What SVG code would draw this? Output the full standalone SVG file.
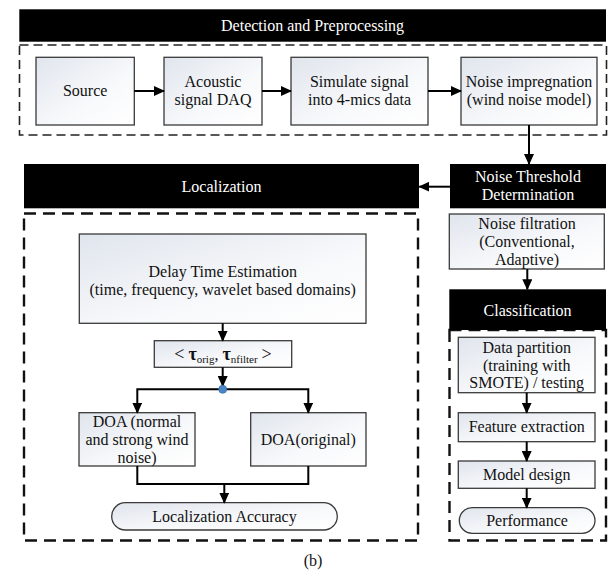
<svg xmlns="http://www.w3.org/2000/svg" width="610" height="576" viewBox="0 0 610 576">
<defs>
<linearGradient id="g" x1="0" y1="0" x2="1" y2="1">
<stop offset="0" stop-color="#e0e5ed"/>
<stop offset="0.6" stop-color="#f8f9fb"/>
<stop offset="1" stop-color="#ffffff"/>
</linearGradient>
<marker id="ah" markerUnits="userSpaceOnUse" markerWidth="11" markerHeight="10" refX="10" refY="5" orient="auto">
<path d="M0,0 L11,5 L0,10 Z" fill="#000"/>
</marker>
<style>
text{font-family:"Liberation Serif","Times New Roman",serif;font-size:16px;text-anchor:middle;fill:#111}
.box{fill:url(#g);stroke:#3a3a3a;stroke-width:1.3}
.hdr{fill:#000}
.hdr-t{fill:#fff}
.dash1{fill:none;stroke:#222;stroke-width:1.6;stroke-dasharray:9 5}
.dash2{fill:none;stroke:#111;stroke-width:2.4;stroke-dasharray:12 7}
.c{fill:none;stroke:#000;stroke-width:2}
.ca{fill:none;stroke:#000;stroke-width:2;marker-end:url(#ah)}
</style>
</defs>
<rect width="610" height="576" fill="#fff"/>

<g id="frames">
<rect class="dash1" x="19.5" y="45" width="587" height="90"/>
<rect class="dash2" x="24" y="213.5" width="394" height="327"/>
<rect class="dash2" x="449.5" y="330" width="156.5" height="210.5"/>
</g>

<g id="detection-header">
<rect class="hdr" x="19.3" y="9.3" width="586.7" height="32.4"/>
<text class="hdr-t" x="312.6" y="30.5">Detection and Preprocessing</text>
</g>

<g id="source">
<rect class="box" x="36" y="57.3" width="98.3" height="67.7"/>
<text x="85.2" y="96">Source</text>
</g>
<g id="acoustic">
<rect class="box" x="164" y="57.3" width="98" height="67.7"/>
<text x="213" y="87">Acoustic</text>
<text x="213" y="105">signal DAQ</text>
</g>
<g id="simulate">
<rect class="box" x="291" y="57.3" width="137" height="67.7"/>
<text x="359.5" y="87">Simulate signal</text>
<text x="359.5" y="105">into 4-mics data</text>
</g>
<g id="impregnation">
<rect class="box" x="461" y="57.3" width="136" height="67.7"/>
<text x="529" y="87">Noise impregnation</text>
<text x="529" y="105">(wind noise model)</text>
</g>

<g id="threshold">
<rect class="hdr" x="450" y="164" width="156" height="44.3"/>
<text class="hdr-t" x="528" y="182">Noise Threshold</text>
<text class="hdr-t" x="528" y="200">Determination</text>
</g>

<g id="localization-header">
<rect class="hdr" x="24" y="164" width="395" height="44.3"/>
<text class="hdr-t" x="221.5" y="192">Localization</text>
</g>

<g id="filtration">
<rect class="box" x="449.3" y="214" width="155" height="55"/>
<text x="527" y="228.5">Noise filtration</text>
<text x="527" y="246.7">(Conventional,</text>
<text x="527" y="264.5">Adaptive)</text>
</g>

<g id="classification-header">
<rect class="hdr" x="449.3" y="289.3" width="156.7" height="40.7"/>
<text class="hdr-t" x="527.6" y="316">Classification</text>
</g>

<g id="delay">
<rect class="box" x="79.3" y="234" width="286.7" height="89.3"/>
<text x="222.7" y="276.7">Delay Time Estimation</text>
<text x="222.7" y="294.5">(time, frequency, wavelet based domains)</text>
</g>

<g id="tau">
<rect class="box" x="154.3" y="340.7" width="137.4" height="26.6"/>
<text x="223" y="360"><tspan font-size="18">&lt;</tspan> <tspan font-weight="bold" font-size="18">τ</tspan><tspan font-size="11" dy="3">orig</tspan><tspan dy="-3">, </tspan><tspan font-weight="bold" font-size="18">τ</tspan><tspan font-size="11" dy="3">nfilter</tspan><tspan dy="-3"> </tspan><tspan font-size="18">&gt;</tspan></text>
</g>

<g id="doa-noise">
<rect class="box" x="79" y="412.7" width="116" height="53.3"/>
<text x="137" y="427">DOA (normal</text>
<text x="137" y="445">and strong wind</text>
<text x="137" y="463.3">noise)</text>
</g>

<g id="doa-original">
<rect class="box" x="250.7" y="412.7" width="115.3" height="53.3"/>
<text x="308.3" y="445">DOA(original)</text>
</g>

<g id="localization-accuracy">
<rect class="box" x="111.7" y="502.7" width="225.6" height="27.3" rx="13.6" ry="13.6"/>
<text x="224.5" y="521.7">Localization Accuracy</text>
</g>

<g id="data-partition">
<rect class="box" x="458.3" y="337.3" width="136.7" height="55.4"/>
<text x="526.7" y="353.3">Data partition</text>
<text x="526.7" y="370.8">(training with</text>
<text x="526.7" y="388.3">SMOTE) / testing</text>
</g>

<g id="feature-extraction">
<rect class="box" x="458.3" y="412.7" width="136.7" height="29"/>
<text x="526.7" y="432.3">Feature extraction</text>
</g>

<g id="model-design">
<rect class="box" x="458.3" y="461" width="136.7" height="27.3"/>
<text x="526.7" y="480">Model design</text>
</g>

<g id="performance">
<rect class="box" x="459.3" y="507.7" width="135.7" height="25.6" rx="12.8" ry="12.8"/>
<text x="527" y="525.7">Performance</text>
</g>

<g id="connectors">
<line class="ca" x1="134.3" y1="91" x2="164" y2="91"/>
<line class="ca" x1="262" y1="91" x2="291" y2="91"/>
<line class="ca" x1="428" y1="91" x2="461" y2="91"/>
<line class="ca" x1="529" y1="125" x2="529" y2="164"/>
<line class="ca" x1="450" y1="186.7" x2="419.3" y2="186.7"/>
<line class="ca" x1="527.3" y1="269" x2="527.3" y2="289.3"/>
<line class="ca" x1="222.7" y1="323.3" x2="222.7" y2="340.7"/>
<line class="ca" x1="222.7" y1="367.3" x2="222.7" y2="386"/>
<polyline class="ca" points="222.7,389.3 137.3,389.3 137.3,412.7"/>
<polyline class="ca" points="222.7,389.3 308.3,389.3 308.3,412.7"/>
<polyline class="c" points="137.3,466 137.3,484 308.3,484 308.3,466"/>
<line class="ca" x1="224.3" y1="484" x2="224.3" y2="502.7"/>
<line class="ca" x1="526.7" y1="392.7" x2="526.7" y2="412.7"/>
<line class="ca" x1="526.7" y1="441.7" x2="526.7" y2="461"/>
<line class="ca" x1="526.7" y1="488.3" x2="526.7" y2="507.7"/>
<circle cx="222.7" cy="389.3" r="4" fill="#4a86c8" stroke="#3a6ea5" stroke-width="0.8"/>
</g>

<text x="313" y="566" font-size="19">(b)</text>
</svg>
